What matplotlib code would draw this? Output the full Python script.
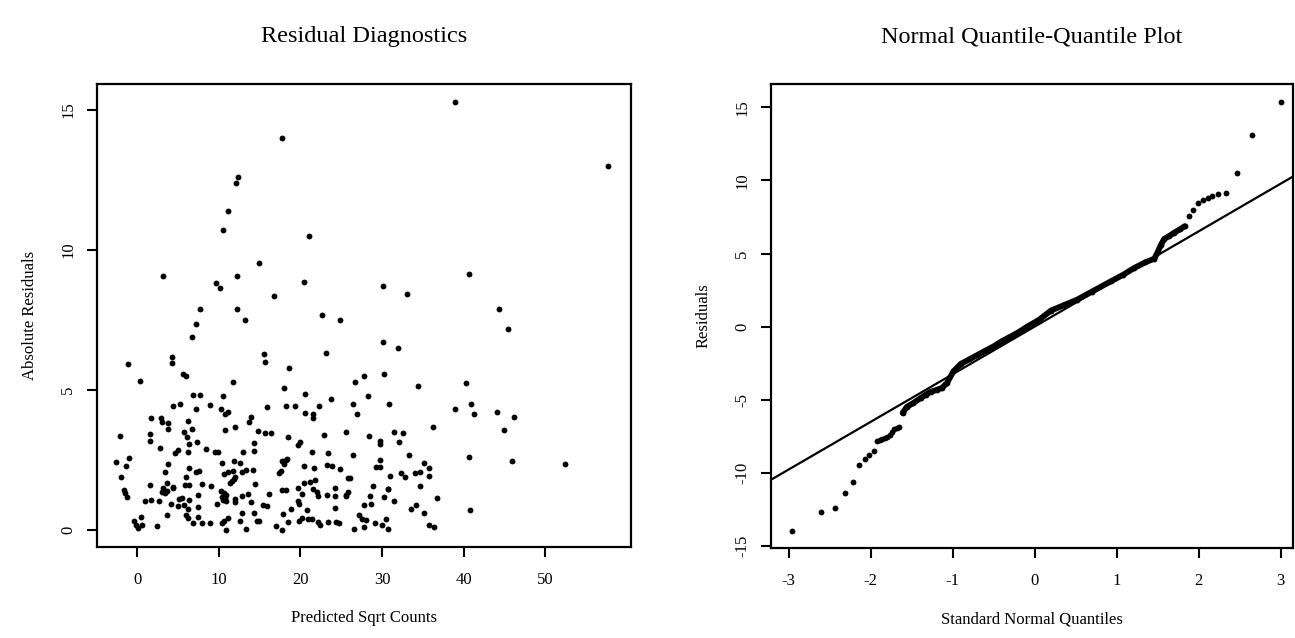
import matplotlib
matplotlib.use("Agg")
import matplotlib.pyplot as plt
import numpy as np

plt.rcParams['font.family'] = ['Liberation Serif', 'DejaVu Serif']

# ---------------- Left panel data: predicted sqrt counts vs |residual| ----------------
pred = [
    17.8, 12.4, 12.1, 11.2, 10.5, 21.1, 15.0, 3.2, 12.3, 9.65, 10.2, 20.5, 16.8, 7.7, 12.2,
    22.6, 24.9, 13.25, 7.24, 6.75, 23.2, 15.5, 15.7, -1.06, 4.25, 4.25, 18.6, 5.65, 5.98,
    0.37, 11.7, 18.0, 6.8, 7.77, 10.55, 20.6, 23.7, 4.38, 5.3, 7.24, 9.0, 10.3, 10.8, 11.1,
    15.95, 18.3, 19.4, 22.3, 20.6, 21.5, 21.5, 1.68, 2.94, 3.1, 3.8, 6.26, 3.77, 6.75,
    5.77, 6.13, 10.8, 12.06, 13.9, 13.7, 14.8, 15.7, 16.4, 18.45, 20.0, 19.7, 22.9, 25.6,
    -2.05, 1.56, 1.56, 2.82, 4.7, 5.03, 6.4, 7.3, 6.2, 8.4, 9.57, 9.9, 13.0, 14.3, 14.3,
    21.4, 23.4, -2.58, -0.94, -1.39, -2.0, 3.84, 3.44, 6.4, 6.05, 7.24, 7.64, 10.47, 11.85,
    12.6, 10.6, 11.2, 11.7, 12.0, 11.65, 11.4, 11.9, 12.85, 13.4, 14.2, 17.75, 18.25, 17.95,
    18.4, 17.4, 17.6, 20.45, 21.7, 23.3, 23.9, 24.9, 25.8, 1.6, -1.6, -1.43, -1.23, 3.68,
    3.2, 3.4, 3.07, 3.64, 4.45, 4.45, 5.9, 6.4, 7.9, 9.1, 1.0, 1.75, 2.66, 4.13, 5.15, 5.56,
    5.03, 5.77, 6.4, 7.5, 7.52, 9.8, 10.3, 10.7, 10.35, 10.85, 10.55, 10.95, 10.75, 12.0,
    12.0, 12.9, 13.65, 14.5, 14.0, 15.4, 15.9, 16.2, 17.8, 18.3, 19.75, 19.9, 20.2, 19.7,
    20.45, 21.2, 21.75, 21.6, 22.0, 22.2, 23.3, 24.3, 24.3, 24.25, 25.6, 17.9, 18.8, 20.8,
    3.68, 6.2, 6.0, 6.3, 6.9, 7.5, -0.4, -0.16, 0.08, 0.45, 0.58, 2.45, 8.0, 9.0, 10.35,
    10.7, 11.2, 10.9, 12.6, 12.9, 13.3, 14.3, 14.7, 15.0, 17.0, 17.7, 18.45, 19.9, 20.2,
    20.9, 21.45, 22.2, 22.4, 23.4, 24.4, 24.7,
    39.0, 57.7, 40.6, 30.1, 33.05, 44.3, 45.4, 30.1, 32.0, 30.3, 26.7, 27.8, 34.4, 40.3,
    28.3, 26.5, 26.9, 30.9, 38.9, 40.9, 41.3, 44.1, 46.2, 44.9, 28.4, 31.5, 32.55, 36.2,
    29.8, 29.8, 32.1, 26.5, 33.25, 40.7, 45.9, 52.4, 29.8, 29.3, 29.7, 26.1, 31.0, 32.35,
    32.85, 34.0, 34.7, 35.1, 35.8, 35.7, 28.9, 34.7, 30.8, 30.8, 25.9, 25.65, 28.5, 30.2,
    31.45, 36.7, 27.85, 28.6, 33.6, 34.2, 35.1, 40.8, 27.2, 27.5, 28.1, 27.85, 26.6, 29.2,
    30.0, 30.5, 30.7, 35.8, 36.4,
]
abs_resid = [
    14.0, 12.6, 12.4, 11.4, 10.7, 10.5, 9.55, 9.07, 9.07, 8.82, 8.63, 8.87, 8.37, 7.9, 7.9,
    7.67, 7.5, 7.5, 7.35, 6.88, 6.33, 6.29, 5.99, 5.94, 6.17, 5.96, 5.8, 5.58, 5.5,
    5.33, 5.3, 5.07, 4.83, 4.83, 4.8, 4.87, 4.69, 4.42, 4.49, 4.33, 4.48, 4.33, 4.15, 4.21,
    4.4, 4.43, 4.43, 4.43, 4.17, 4.14, 4.01, 4.0, 4.0, 3.86, 3.83, 3.89, 3.62, 3.6,
    3.49, 3.33, 3.58, 3.67, 4.03, 3.86, 3.54, 3.45, 3.45, 3.33, 3.15, 3.05, 3.38, 3.49,
    3.37, 3.43, 3.18, 2.93, 2.75, 2.86, 3.07, 3.14, 2.77, 2.89, 2.77, 2.77, 2.77, 3.12, 2.83,
    2.77, 2.74, 2.43, 2.58, 2.3, 1.9, 2.36, 2.07, 2.23, 1.88, 2.06, 2.12, 2.38, 2.48,
    2.4, 2.0, 2.07, 2.12, 1.89, 1.76, 1.69, 1.81, 2.06, 2.13, 2.14, 2.45, 2.5, 2.37,
    2.54, 2.04, 2.11, 2.3, 2.23, 2.31, 2.29, 2.17, 1.85, 1.61, 1.42, 1.31, 1.17, 1.69,
    1.49, 1.31, 1.37, 1.4, 1.48, 1.55, 1.61, 1.61, 1.64, 1.57, 1.02, 1.06, 1.04, 0.93, 1.1, 1.13,
    0.86, 0.9, 1.06, 1.24, 0.82, 0.93, 1.39, 1.33, 1.19, 1.24, 1.07, 1.02, 1.14, 1.12,
    1.0, 1.21, 1.27, 1.65, 0.98, 0.89, 0.86, 1.27, 1.43, 1.43, 1.02, 0.92, 1.29, 1.51,
    1.67, 1.71, 1.77, 1.46, 1.35, 1.2, 1.26, 1.49, 1.21, 0.79, 1.24, 0.58, 0.76, 0.71,
    0.55, 0.73, 0.54, 0.42, 0.26, 0.46, 0.33, 0.19, 0.08, 0.45, 0.17, 0.15, 0.26, 0.24, 0.26,
    0.33, 0.42, 0.0, 0.33, 0.62, 0.02, 0.62, 0.33, 0.31, 0.15, 0.0, 0.27, 0.33, 0.42,
    0.39, 0.39, 0.3, 0.18, 0.3, 0.3, 0.26,
    15.3, 13.0, 9.13, 8.73, 8.44, 7.9, 7.18, 6.73, 6.51, 5.56, 5.29, 5.51, 5.14, 5.26,
    4.79, 4.5, 4.15, 4.49, 4.31, 4.5, 4.15, 4.21, 4.03, 3.56, 3.36, 3.51, 3.48, 3.68,
    3.19, 3.06, 3.15, 2.68, 2.67, 2.6, 2.48, 2.35, 2.5, 2.25, 2.25, 1.85, 1.93, 2.02,
    1.9, 2.02, 2.08, 2.4, 2.23, 1.94, 1.57, 1.57, 1.45, 1.45, 1.35, 1.21, 1.21, 1.17,
    1.04, 1.13, 0.89, 0.93, 0.75, 0.9, 0.6, 0.71, 0.54, 0.38, 0.36, 0.1, 0.04, 0.26,
    0.19, 0.38, 0.05, 0.18, 0.11,
]
left_xticks = [0, 10, 20, 30, 40, 50]
left_yticks = [0, 5, 10, 15]

# ---------------- Right panel data: normal Q-Q plot ----------------
qq_x = [-2.96, -2.61, -2.43, -2.31, -2.22, -2.14, -2.07, -2.02, -1.96,
        -1.92, -1.89, -1.86, -1.83, -1.80, -1.77, -1.74, -1.71, -1.68, -1.65,
        -1.61, -1.56, -1.48, -1.39, -1.33, -1.27, -1.19, -1.13, -1.07, -0.99, -0.90,
        -0.80, -0.70, -0.60, -0.50, -0.40, -0.30, -0.20, -0.09, 0.05, 0.20, 0.35, 0.52,
        0.70, 0.93, 1.08, 1.21, 1.35, 1.46, 1.50, 1.54, 1.58, 1.64, 1.70, 1.77, 1.83,
        1.88, 1.93, 1.99, 2.05, 2.11, 2.16, 2.23, 2.33, 2.47, 2.65, 3.00]
qq_y = [-14.0, -12.67, -12.4, -11.4, -10.6, -9.45, -9.06, -8.77, -8.54,
        -7.86, -7.78, -7.69, -7.62, -7.58, -7.40, -7.20, -7.00, -6.92, -6.90,
        -5.91, -5.5, -5.23, -4.89, -4.66, -4.47, -4.32, -4.2, -3.86, -3.06, -2.55,
        -2.25, -1.95, -1.65, -1.35, -1.0, -0.7, -0.4, 0.0, 0.45, 1.1, 1.45, 1.85,
        2.4, 3.1, 3.55, 4.0, 4.4, 4.65, 5.1, 5.6, 6.0, 6.2, 6.42, 6.65, 6.87,
        7.6, 8.01, 8.47, 8.65, 8.81, 8.92, 9.04, 9.16, 10.53, 13.08, 15.36]
qq_dense = (19, 55)          # index range drawn as a continuous band
qq_line_intercept = 0.0
qq_line_slope = 3.26
right_xticks = [-3, -2, -1, 0, 1, 2, 3]
right_yticks = [-15, -10, -5, 0, 5, 10, 15]

W, H = 1295, 638
fig = plt.figure(figsize=(W / 100, H / 100), dpi=100)

def box(l, t, r, b):
    return [l / W, 1 - b / H, (r - l) / W, (b - t) / H]

axL = fig.add_axes(box(97, 84, 631, 547))
axR = fig.add_axes(box(771, 84, 1293, 548))

for ax in (axL, axR):
    for s in ax.spines.values():
        s.set_linewidth(1.6)
        s.set_color('black')
    ax.tick_params(axis='both', direction='out', length=7, width=1.5,
                   labelsize=12, pad=11, colors='black')
    ax.tick_params(axis='y', pad=8)

# Left
axL.plot(pred, abs_resid, 'o', color='black', markersize=4.2, markeredgewidth=0)
axL.set_xlim(-4.9, 60.5)
axL.set_ylim(-0.61, 15.93)
axL.set_xticks(left_xticks)
axL.set_yticks(left_yticks)
axL.set_xticklabels([str(v) for v in left_xticks])
axL.set_yticklabels([str(v) for v in left_yticks], rotation=90, va='center')
axL.set_xlabel('Predicted Sqrt Counts', fontsize=12, labelpad=16)
axL.set_ylabel('Absolute Residuals', fontsize=12, labelpad=16)
axL.set_title('Residual Diagnostics', fontsize=17.5, pad=30)

# Right
d0, d1 = qq_dense
axR.plot(qq_x[d0:d1], qq_y[d0:d1], '-', color='black', linewidth=4.2,
         solid_capstyle='round', solid_joinstyle='round')
axR.plot(qq_x, qq_y, 'o', color='black', markersize=4.2, markeredgewidth=0)
axR.axline((0, qq_line_intercept), slope=qq_line_slope, color='black', linewidth=1.6)
axR.set_xlim(-3.215, 3.15)
axR.set_ylim(-15.15, 16.6)
axR.set_xticks(right_xticks)
axR.set_yticks(right_yticks)
axR.set_xticklabels([str(v) for v in right_xticks])
axR.set_yticklabels([str(v) for v in right_yticks], rotation=90, va='center')
axR.set_xlabel('Standard Normal Quantiles', fontsize=12, labelpad=16)
axR.set_ylabel('Residuals', fontsize=12, labelpad=16)
axR.set_title('Normal Quantile-Quantile Plot', fontsize=17.5, pad=30)

fig.savefig('out.png', dpi=100, facecolor='white')
